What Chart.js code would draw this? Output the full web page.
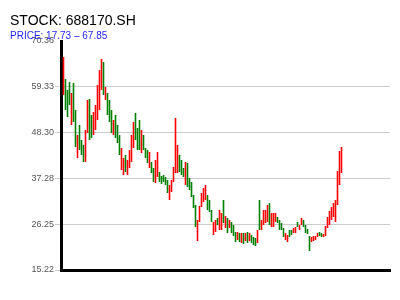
<!DOCTYPE html>
<html>
<head>
<meta charset="utf-8">
<script src="https://cdn.jsdelivr.net/npm/chart.js@4.4.0/dist/chart.umd.min.js"></script>
<style>
  html, body { margin: 0; padding: 0; background: #fff; }
  #wrap { position: relative; width: 400px; height: 300px; }
  #title { position: absolute; left: 10px; top: 13px; font: 14px/14px "Liberation Sans", Arial, sans-serif; color: #000; white-space: nowrap; }
  #subtitle { position: absolute; left: 10px; top: 31px; font: 10px/10px "Liberation Sans", Arial, sans-serif; color: #2424ff; white-space: nowrap; }
</style>
</head>
<body>
<div id="wrap">
  <canvas id="chart" width="400" height="300"></canvas>
  <div id="title">STOCK: 688170.SH</div>
  <div id="subtitle">PRICE: 17.73 – 67.85</div>
</div>
<script>
/* DATA */

const highs = [
  66.51, 61.21, 58.56, 60.49, 57.84, 60.25, 53.75, 47.73, 50.13, 46.52,
  45.32, 48.93, 56.15, 56.40, 52.54, 53.26, 54.95, 59.77, 63.38, 66.03,
  65.30, 59.28, 57.84, 56.15, 53.75, 51.34, 52.54, 50.13, 47.73, 44.60,
  42.19, 42.91, 41.71, 44.11, 47.73, 50.86, 53.02, 49.41, 51.34, 48.93,
  47.73, 44.60, 44.11, 43.63, 41.23, 39.78, 41.71, 43.63, 38.82, 37.85,
  38.10, 37.61, 36.89, 35.69, 36.89, 40.02, 51.82, 45.32, 42.91, 41.71,
  39.78, 41.23, 40.98, 37.37, 36.41, 33.28, 30.87, 27.26, 30.63, 33.76,
  34.96, 35.69, 33.28, 32.08, 29.67, 26.78, 27.26, 27.74, 29.67, 28.94,
  32.08, 28.22, 27.74, 27.26, 26.78, 26.06, 24.37, 24.37, 24.13, 24.13,
  24.13, 24.13, 24.37, 24.13, 23.65, 23.17, 22.93, 24.85, 32.08, 27.26,
  29.67, 29.67, 30.87, 31.35, 28.94, 28.94, 28.94, 27.98, 27.26, 26.54,
  25.33, 24.13, 23.65, 24.85, 24.85, 25.33, 25.57, 26.78, 26.06, 27.74,
  27.26, 26.06, 25.09, 23.41, 23.17, 23.41, 23.41, 24.13, 24.37, 24.13,
  23.89, 25.81, 27.98, 29.43, 30.39, 31.35, 32.08, 39.06, 43.87, 44.84
];

const lows = [
  57.36, 53.75, 52.06, 54.95, 50.13, 50.86, 44.84, 42.19, 44.11, 42.91,
  41.23, 41.23, 48.21, 46.52, 47.00, 47.73, 48.93, 51.34, 53.75, 58.56,
  57.36, 56.15, 52.54, 50.86, 48.21, 47.73, 47.00, 45.80, 42.91, 39.30,
  38.10, 38.82, 38.10, 39.78, 41.23, 44.60, 46.52, 44.11, 44.11, 43.39,
  44.11, 42.19, 40.98, 39.78, 38.58, 36.41, 36.17, 37.61, 36.41, 35.93,
  36.41, 35.69, 33.76, 32.08, 34.00, 36.41, 38.58, 38.58, 38.82, 38.10,
  37.61, 35.69, 35.21, 34.48, 32.80, 30.15, 25.57, 22.20, 26.78, 30.39,
  31.59, 32.08, 29.67, 29.19, 26.78, 23.65, 24.37, 26.06, 24.85, 24.85,
  26.54, 25.33, 24.13, 25.33, 24.13, 23.41, 21.96, 22.44, 21.96, 21.72,
  21.48, 22.20, 21.72, 22.20, 21.72, 21.24, 21.00, 21.72, 24.85, 24.85,
  26.06, 26.54, 26.78, 26.06, 25.57, 25.57, 26.78, 26.54, 24.85, 24.85,
  23.17, 22.44, 21.96, 23.17, 23.65, 24.13, 24.13, 25.57, 24.85, 26.06,
  25.57, 24.13, 23.89, 19.80, 21.96, 22.20, 22.44, 23.17, 23.41, 23.17,
  23.17, 23.41, 25.33, 26.06, 27.26, 27.98, 26.78, 30.87, 35.69, 38.58
];

// 1 = closed up (red), 0 = closed down (green)
const ups = [
  1, 0, 0, 0, 1, 0, 0, 1, 0, 0,
  0, 1, 1, 0, 0, 1, 1, 1, 1, 1,
  0, 1, 0, 0, 0, 1, 0, 0, 0, 1,
  1, 0, 1, 1, 1, 1, 0, 0, 0, 1,
  0, 0, 0, 1, 0, 0, 1, 1, 0, 0,
  0, 0, 0, 1, 1, 1, 1, 1, 0, 0,
  0, 1, 0, 0, 0, 0, 0, 1, 1, 1,
  1, 1, 0, 0, 0, 1, 1, 0, 1, 1,
  0, 1, 0, 1, 0, 0, 0, 1, 0, 1,
  0, 1, 0, 1, 0, 0, 0, 1, 0, 1,
  1, 1, 1, 0, 1, 1, 1, 0, 0, 0,
  0, 1, 1, 0, 0, 1, 1, 0, 1, 1,
  0, 0, 0, 0, 1, 1, 1, 1, 0, 0,
  1, 1, 1, 1, 1, 1, 1, 1, 1, 1
];

const yTicks = [15.22, 26.25, 37.28, 48.30, 59.33, 70.36];

/* CHART */

const FONT = '"Liberation Sans", Arial, sans-serif';
const UP = "rgb(255, 0, 0)";
const DOWN = "rgb(0, 128, 0)";

new Chart(document.getElementById("chart"), {
  type: "bar",
  data: {
    datasets: [{
      data: highs.map((h, i) => ({ x: i, y: [lows[i], h] })),
      backgroundColor: ups.map(u => u ? UP : DOWN),
      borderColor: ups.map(u => u ? UP : DOWN),
      borderWidth: 0,
      barThickness: 1.6,
      inflateAmount: 0
    }]
  },
  options: {
    responsive: false,
    animation: false,
    layout: { padding: { top: 41, right: 10, bottom: 30, left: 0 } },
    plugins: { legend: { display: false }, tooltip: { enabled: false } },
    scales: {
      x: {
        type: "linear",
        min: -1.25,
        max: 163.25,
        offset: false,
        ticks: { display: false },
        grid: { display: false },
        border: { color: "#000", width: 3 },
        afterFit: s => { s.height = 0; }
      },
      y: {
        min: yTicks[0],
        max: yTicks[yTicks.length - 1],
        afterBuildTicks: s => { s.ticks = yTicks.map(v => ({ value: v })); },
        afterFit: s => { s.width = 61; },
        ticks: {
          color: "#555",
          padding: 1,
          font: { family: FONT, size: 9 },
          callback: v => v.toFixed(2)
        },
        grid: {
          color: c => c.index === yTicks.length - 1 ? "rgba(0,0,0,0)" : "#cccccc",
          tickLength: 6
        },
        border: { color: "#000", width: 3 }
      }
    }
  }
});
</script>
</body>
</html>
